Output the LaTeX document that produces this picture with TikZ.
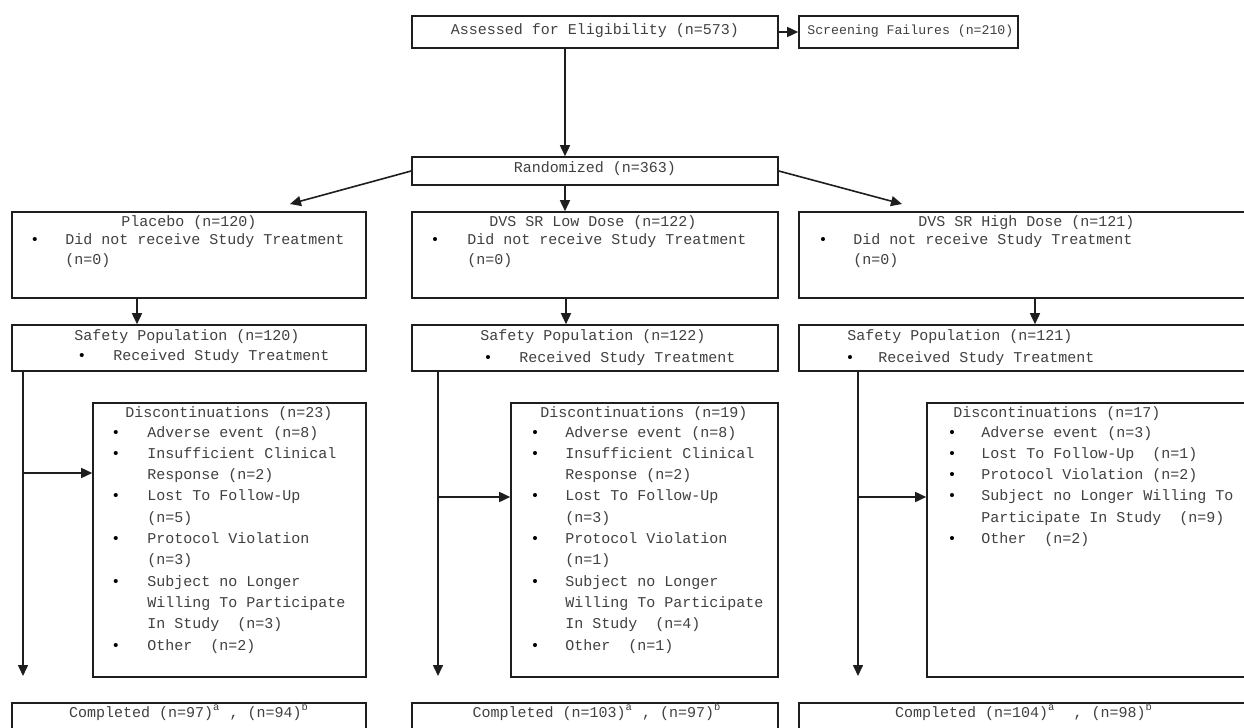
\documentclass[tikz,border=0pt]{standalone}
\usepackage{fontspec}
\setmonofont{Liberation Mono}
\usetikzlibrary{fit,arrows.meta}
\definecolor{ink}{HTML}{1E1E1E}
\definecolor{txtc}{HTML}{404040}
\tikzset{
  box/.style={draw=ink, line width=0.8pt, inner sep=0pt},
  txt/.style={font=\ttfamily\fontsize{7.5}{9}\selectfont, text=txtc, inner sep=0pt, anchor=base west, yshift=-2pt},
  ctxt/.style={txt, anchor=base},
  bul/.style={font=\ttfamily\fontsize{7.5}{9}\selectfont, text=black, inner sep=0pt, anchor=base, yshift=-2pt},
  arr/.style={draw=ink, line width=0.8pt, -{Triangle[length=5.5pt,width=5pt]}},
  ln/.style={draw=ink, line width=0.8pt}
}
\begin{document}
\begin{tikzpicture}[x=0.5pt,y=-0.5pt]
\useasboundingbox (0,0) rectangle (1244,728);
\clip (0,0) rectangle (1244,728);
\fill[white] (0,0) rectangle (1244,728);

% boxes
\node[box, fit={(412,16) (778,48)}] (elig) {};
\node[box, fit={(799,16) (1018,48)}] (screen) {};
\node[box, fit={(412,157) (778,185)}] (rand) {};
\node[box, fit={(12,212) (366,298)}] (plac) {};
\node[box, fit={(412,212) (778,298)}] (low) {};
\node[box, fit={(799,212) (1256,298)}] (high) {};
\node[box, fit={(12,325) (366,371)}] (splac) {};
\node[box, fit={(412,325) (778,371)}] (slow) {};
\node[box, fit={(799,325) (1256,371)}] (shigh) {};
\node[box, fit={(93,403) (366,677)}] (dplac) {};
\node[box, fit={(511,403) (778,677)}] (dlow) {};
\node[box, fit={(927,403) (1256,677)}] (dhigh) {};
\node[box, fit={(12,703) (366,745)}] (cplac) {};
\node[box, fit={(412,703) (778,745)}] (clow) {};
\node[box, fit={(799,703) (1256,745)}] (chigh) {};

% top texts
\node[ctxt] (telig) at (595,30) {Assessed for Eligibility (n=573)};
\node[txt, font=\ttfamily\fontsize{6.6}{8}\selectfont] (tscreen) at (807,30) {Screening Failures (n=210)};
\node[ctxt] (trand) at (595,168) {Randomized (n=363)};

% arm boxes
\node[ctxt] (tplac) at (189,222) {Placebo (n=120)};
\node[bul] (bplac) at (35,240) {•};
\node[txt] (tplac1) at (65,240) {Did not receive Study Treatment};
\node[txt] (tplac2) at (65,260) {(n=0)};

\node[ctxt] (tlow) at (593,222) {DVS SR Low Dose (n=122)};
\node[bul] (blow) at (435,240) {•};
\node[txt] (tlow1) at (467,240) {Did not receive Study Treatment};
\node[txt] (tlow2) at (467,260) {(n=0)};

\node[txt] (thigh) at (918,222) {DVS SR High Dose (n=121)};
\node[bul] (bhigh) at (823,240) {•};
\node[txt] (thigh1) at (853,240) {Did not receive Study Treatment};
\node[txt] (thigh2) at (853,260) {(n=0)};

% safety
\node[ctxt] (tsplac) at (187,336) {Safety Population (n=120)};
\node[bul] (bsplac) at (82,356) {•};
\node[txt] (tsplac1) at (113,356) {Received Study Treatment};

\node[txt] (tslow) at (480,336) {Safety Population (n=122)};
\node[bul] (bslow) at (488,358) {•};
\node[txt] (tslow1) at (519,358) {Received Study Treatment};

\node[txt] (tshigh) at (847,336) {Safety Population (n=121)};
\node[bul] (bshigh) at (850,358) {•};
\node[txt] (tshigh1) at (878,358) {Received Study Treatment};

% discontinuations placebo
\node[txt] (tdp) at (125,413) {Discontinuations (n=23)};
\node[bul] (bdp1) at (116,433) {•};
\node[txt] (dp1) at (147,433) {Adverse event (n=8)};
\node[bul] (bdp2) at (116,454.3) {•};
\node[txt] (dp2) at (147,454.3) {Insufficient Clinical};
\node[txt] (dp3) at (147,475.6) {Response (n=2)};
\node[bul] (bdp4) at (116,496.9) {•};
\node[txt] (dp4) at (147,496.9) {Lost To Follow-Up};
\node[txt] (dp5) at (147,518.2) {(n=5)};
\node[bul] (bdp6) at (116,539.5) {•};
\node[txt] (dp6) at (147,539.5) {Protocol Violation};
\node[txt] (dp7) at (147,560.8) {(n=3)};
\node[bul] (bdp8) at (116,582.1) {•};
\node[txt] (dp8) at (147,582.1) {Subject no Longer};
\node[txt] (dp9) at (147,603.4) {Willing To Participate};
\node[txt] (dp10) at (147,624.7) {In Study~ (n=3)};
\node[bul] (bdp11) at (116,646) {•};
\node[txt] (dp11) at (147,646) {Other~ (n=2)};

% discontinuations low
\node[txt] (tdl) at (540,413) {Discontinuations (n=19)};
\node[bul] (bdl1) at (535,433) {•};
\node[txt] (dl1) at (565,433) {Adverse event (n=8)};
\node[bul] (bdl2) at (535,454.3) {•};
\node[txt] (dl2) at (565,454.3) {Insufficient Clinical};
\node[txt] (dl3) at (565,475.6) {Response (n=2)};
\node[bul] (bdl4) at (535,496.9) {•};
\node[txt] (dl4) at (565,496.9) {Lost To Follow-Up};
\node[txt] (dl5) at (565,518.2) {(n=3)};
\node[bul] (bdl6) at (535,539.5) {•};
\node[txt] (dl6) at (565,539.5) {Protocol Violation};
\node[txt] (dl7) at (565,560.8) {(n=1)};
\node[bul] (bdl8) at (535,582.1) {•};
\node[txt] (dl8) at (565,582.1) {Subject no Longer};
\node[txt] (dl9) at (565,603.4) {Willing To Participate};
\node[txt] (dl10) at (565,624.7) {In Study~ (n=4)};
\node[bul] (bdl11) at (535,646) {•};
\node[txt] (dl11) at (565,646) {Other~ (n=1)};

% discontinuations high
\node[txt] (tdh) at (953,413) {Discontinuations (n=17)};
\node[bul] (bdh1) at (952,433) {•};
\node[txt] (dh1) at (981,433) {Adverse event (n=3)};
\node[bul] (bdh2) at (952,454.3) {•};
\node[txt] (dh2) at (981,454.3) {Lost To Follow-Up~ (n=1)};
\node[bul] (bdh3) at (952,475.6) {•};
\node[txt] (dh3) at (981,475.6) {Protocol Violation (n=2)};
\node[bul] (bdh4) at (952,496.9) {•};
\node[txt] (dh4) at (981,496.9) {Subject no Longer Willing To};
\node[txt] (dh5) at (981,518.2) {Participate In Study~ (n=9)};
\node[bul] (bdh6) at (952,539.5) {•};
\node[txt] (dh6) at (981,539.5) {Other~ (n=2)};

% completed
\node[ctxt] (tcp) at (189,713) {Completed (n=97)\textsuperscript{a} , (n=94)\textsuperscript{b}};
\node[ctxt] (tcl) at (597,713) {Completed (n=103)\textsuperscript{a} , (n=97)\textsuperscript{b}};
\node[ctxt] (tch) at (1024,713) {Completed (n=104)\textsuperscript{a}~ , (n=98)\textsuperscript{b}};

% helper coordinates
\coordinate (ax) at (565,0);
\coordinate (pl) at (290,204);
\coordinate (ph) at (902,204);
\coordinate (a1) at (137,0);
\coordinate (a2) at (566,0);
\coordinate (a3) at (1035,0);
\coordinate (v1) at (23,473);
\coordinate (v2) at (438,497);
\coordinate (v3) at (858,497);
\coordinate (e1) at (23,676);
\coordinate (e2) at (438,676);
\coordinate (e3) at (858,676);

% connectors
\draw[arr] (elig.east) -- (screen.west);
\draw[arr] (elig.south -| ax) -- (rand.north -| ax);
\draw[arr] (rand.west) -- (pl);
\draw[arr] (rand.east) -- (ph);
\draw[arr] (rand.south -| ax) -- (low.north -| ax);
\draw[arr] (plac.south -| a1) -- (splac.north -| a1);
\draw[arr] (low.south -| a2) -- (slow.north -| a2);
\draw[arr] (high.south -| a3) -- (shigh.north -| a3);
\draw[arr] (splac.south -| e1) -- (e1);
\draw[arr] (slow.south -| e2) -- (e2);
\draw[arr] (shigh.south -| e3) -- (e3);
\draw[arr] (v1) -- (v1 -| dplac.west);
\draw[arr] (v2) -- (v2 -| dlow.west);
\draw[arr] (v3) -- (v3 -| dhigh.west);
\end{tikzpicture}
\end{document}
